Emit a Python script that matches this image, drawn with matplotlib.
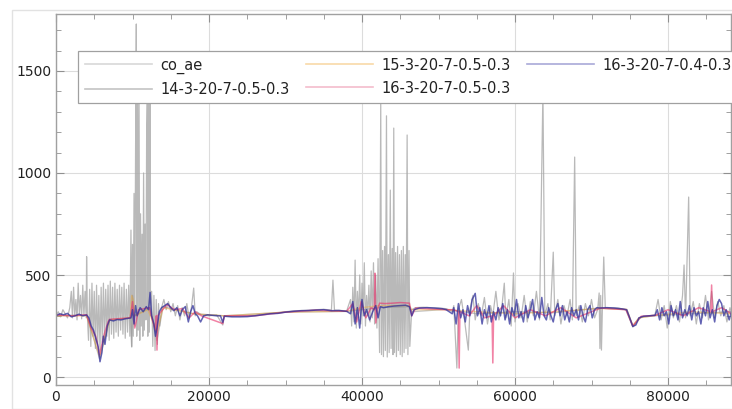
import matplotlib
matplotlib.use("Agg")
import matplotlib.pyplot as plt
import numpy as np
from matplotlib.patches import Rectangle
from matplotlib.ticker import MultipleLocator

# values, x in thousands of samples
co_x = [0, 0.3, 0.6, 0.9, 1.2, 1.5, 1.8,
        2.0, 2.15, 2.3, 2.45, 2.6, 2.75, 2.9, 3.05, 3.2, 3.35, 3.5, 3.65, 3.8, 3.95, 4.0, 4.1,
        4.25, 4.4, 4.55, 4.7, 4.85, 5.0, 5.15, 5.3, 5.45, 5.6, 5.75, 5.9, 6.05, 6.2, 6.35, 6.5,
        6.65, 6.8, 6.95, 7.1, 7.25, 7.4, 7.55, 7.7, 7.85, 8.0, 8.15, 8.3, 8.45, 8.6, 8.75, 8.9,
        9.05, 9.2, 9.35, 9.5, 9.65,
        9.8, 9.9, 10.0, 10.1, 10.2, 10.3, 10.4, 10.5, 10.55, 10.65, 10.75, 10.85, 10.95, 11.05,
        11.15, 11.25, 11.35, 11.45, 11.55, 11.65, 11.75, 11.85, 11.95, 12.0, 12.1, 12.2, 12.3, 12.35,
        12.5, 12.65, 12.8, 12.95, 13.1, 13.25, 13.4, 13.55,
        13.8, 14.1, 14.4, 14.7, 15.0, 15.3, 15.6, 15.9, 16.2, 16.5, 16.8, 17.1, 17.4, 17.7, 18.0,
        18.2, 18.4,
        19, 20, 21, 21.8, 22, 23, 24, 25, 26, 27, 28, 29, 30, 31, 32, 33, 34, 35, 36, 36.2, 36.4,
        37, 38,
        38.5, 38.65, 38.8, 38.95, 39.1, 39.25, 39.4, 39.55, 39.7, 39.85, 40.0, 40.15, 40.3, 40.45,
        40.6, 40.75, 40.9, 41.05, 41.2, 41.35, 41.5, 41.65, 41.8, 41.95, 42.1,
        42.3, 42.45, 42.55, 42.7, 42.8, 42.95, 43.05, 43.2, 43.3, 43.45, 43.55, 43.7, 43.8, 43.95,
        44.05, 44.15, 44.25, 44.4, 44.5, 44.65, 44.75, 44.9, 45.0, 45.15, 45.25, 45.4, 45.5, 45.65,
        45.75, 45.9, 46.0, 46.15, 46.25,
        46.5, 47, 48, 49, 50, 51, 51.8,
        52.0, 52.4, 52.6, 53.0, 53.4, 53.9, 54.1, 54.5, 54.8, 55.2, 55.6, 56.0, 56.4, 56.8, 57.1,
        57.5, 57.9, 58.3, 58.6, 58.8, 59.2, 59.5, 59.8, 60.0, 60.4, 60.8, 61.2, 61.6, 62.0, 62.4,
        62.8, 63.2, 63.65, 63.9, 64.3, 64.6, 65.0, 65.2, 65.6, 66.0, 66.4, 66.8, 67.2, 67.5, 67.8,
        68.0, 68.4, 68.8, 69.2, 69.6, 70.0, 70.4, 70.8, 71.0, 71.1, 71.2, 71.3, 71.45, 71.6, 71.8,
        72.5, 73.5, 74.5, 75.4, 76.5, 77.5, 78.3,
        78.7, 79.1, 79.5, 79.9, 80.3, 80.7, 81.1, 81.5, 81.9, 82.1, 82.3, 82.7, 82.9, 83.3, 83.7,
        84.1, 84.5, 84.9, 85.3, 85.7, 86.1, 86.5, 86.9, 87.3, 87.7, 88.1, 88.4]
co_y = [300, 320, 295, 330, 310, 290, 340,
        420, 290, 440, 300, 380, 280, 460, 310, 400, 285, 450, 300, 420, 290, 590, 300,
        180, 430, 150, 460, 200, 420, 140, 450, 160, 400, 132, 440, 170, 460, 190, 430,
        200, 450, 180, 470, 210, 440, 190, 460, 220, 430, 200, 450, 230, 440, 210, 460,
        190, 430, 220, 450, 200,
        720, 150, 650, 200, 900, 250, 1100, 1730, 200, 1500, 230, 1450, 180, 800,
        250, 700, 200, 1000, 230, 750, 280, 1200, 1420, 200, 1450, 220, 1380, 300,
        420, 150, 400, 130, 380, 160, 360, 250,
        340, 380, 330, 370, 320, 360, 300, 350, 280, 340, 300, 360, 290, 340, 436,
        300, 320,
        305, 300, 305, 255, 300, 298, 300, 300, 303, 307, 312, 315, 320, 324, 326, 327, 330, 332,
        328, 475, 328, 327, 324,
        380, 250, 440, 270, 573, 240, 420, 290, 500, 260, 460, 300, 560, 250,
        400, 300, 450, 270, 520, 290, 560, 260, 500, 240, 580,
        120, 1340, 110, 620, 100, 640, 130, 1280, 98, 600, 120, 916, 140, 630,
        110, 1220, 120, 610, 100, 640, 130, 600, 110, 620, 100, 640, 120, 600,
        140, 1186, 110, 620, 150,
        330, 340, 342, 340, 338, 335, 320,
        350, 44, 330, 380, 280, 132, 330, 400, 280, 360, 300, 390, 260, 350, 300,
        420, 280, 350, 460, 290, 380, 250, 510, 270, 360, 290, 400, 270, 370, 300,
        420, 280, 1400, 300, 360, 280, 612, 300, 380, 260, 350, 300, 380, 280, 1078,
        300, 350, 270, 360, 300, 380, 290, 330, 412, 140, 400, 132, 380, 588, 340,
        340, 338, 330, 245, 295, 300, 305,
        380, 280, 350, 240, 370, 290, 350, 270, 400, 549, 290, 882, 300, 370, 260,
        360, 290, 400, 280, 420, 290, 370, 300, 350, 270, 340, 300]

m14_x = [0, 4, 5.7, 7, 9.7, 9.9, 10.0, 10.2, 12.3, 13.2, 14, 18, 22, 30, 38, 40, 42.3, 46.2,
         46.5, 51, 55, 60, 65, 71, 74.6, 75.4, 76.2, 78, 83, 88.3]
m14_y = [300, 305, 90, 278, 290, 147, 400, 300, 340, 180, 345, 310, 300, 318, 322, 330, 340,
         345, 320, 332, 310, 320, 315, 338, 330, 250, 290, 300, 310, 320]

m15_x = [0, 4, 5.7, 7, 9.7, 9.9, 10.1, 10.3, 12, 13.2, 14, 18, 22, 30, 38, 40, 42.3, 46.2,
         46.5, 51, 55, 60, 65, 71, 74.6, 75.4, 76.2, 78, 83, 88.3]
m15_y = [300, 300, 100, 280, 290, 400, 380, 300, 330, 220, 340, 310, 300, 318, 322, 340, 350,
         350, 330, 330, 320, 310, 320, 336, 332, 252, 290, 300, 320, 310]

m16a_x = [0, 2, 4, 4.6, 5.2, 5.7, 6.3, 6.8, 7, 9.7, 10.0, 10.3, 10.8, 11.5, 12.2, 12.6, 13.0,
          13.1, 13.2, 13.3, 13.5, 14.5, 15.5, 16.5, 17.4, 18.2, 19, 21.8, 22, 26, 30, 34, 38,
          38.8, 39.3, 39.9, 40.5, 41.2, 41.6, 41.7, 41.8, 42.0, 42.3, 43, 44, 45, 46.2, 46.5,
          47, 51, 52, 52.6, 52.7, 52.8, 54, 55, 56, 57.0, 57.1, 57.2, 58.5, 60, 62, 64, 66,
          68, 70, 71.2, 74.5, 75.4, 76.5, 78.3, 80, 82, 84, 85.6, 85.7, 85.8, 87, 88.3]
m16a_y = [305, 300, 305, 240, 200, 110, 210, 270, 283, 290, 370, 240, 330, 335, 340, 280, 230,
          300, 132, 300, 310, 355, 330, 335, 290, 320, 300, 262, 300, 300, 318, 328, 322,
          360, 270, 370, 290, 340, 330, 509, 265, 330, 362, 360, 362, 365, 362, 300,
          338, 330, 330, 320, 44, 320, 300, 350, 290, 300, 69, 300, 350, 290, 330, 300, 340,
          290, 320, 338, 330, 250, 298, 302, 330, 300, 340, 320, 451, 320, 340, 310]

m16b_x = [0, 0.5, 1.0, 1.5, 2.0, 2.5, 3.0, 3.5, 4.0, 4.3, 4.6, 4.9, 5.2, 5.5, 5.75, 6.0, 6.2,
          6.4, 6.7, 7.0, 7.5, 8.0, 8.5, 9.0, 9.5, 9.8, 10.0, 10.2, 10.4, 10.6, 11.0, 11.4, 11.8,
          12.1, 12.3, 12.5, 12.8, 13.0, 13.2, 13.5, 13.8, 14.2, 14.6, 15.0, 15.4, 15.8, 16.2,
          16.5, 16.9, 17.3, 17.6, 17.9, 18.2, 18.5, 18.9, 19.3, 19.8, 20.5, 21.0, 21.5, 21.8,
          22.0, 23, 24, 25, 26, 27, 28, 29, 30, 31, 32, 33, 34, 35, 36, 37, 38, 38.5, 38.8,
          39.1, 39.4, 39.7, 40.0, 40.3, 40.6, 41.0, 41.4, 41.8, 42.1, 42.4, 42.8, 43.5, 44.2,
          45.0, 45.7, 46.2, 46.5, 46.8, 47.5, 48.5, 49.5, 50.5, 51.0, 51.4, 51.8,
          52.0, 52.3, 52.6, 52.9, 53.2, 53.5, 53.8, 54.1, 54.4, 54.8, 55.1, 55.4, 55.7, 56.0,
          56.3, 56.6, 56.9, 57.2, 57.5, 57.8, 58.1, 58.4, 58.7, 59.0, 59.3, 59.6, 59.9, 60.2,
          60.5, 60.8, 61.1, 61.4, 61.7, 62.0, 62.3, 62.6, 62.9, 63.2, 63.5, 63.8, 64.1, 64.4,
          64.7, 65.0, 65.3, 65.6, 65.9, 66.2, 66.5, 66.8, 67.1, 67.4, 67.7, 68.0, 68.3, 68.6,
          68.9, 69.2, 69.5, 69.8, 70.1, 70.4, 70.7,
          71.1, 72, 73, 74, 74.6, 75.0, 75.4, 75.8, 76.2, 76.8, 77.5, 78.3, 78.6,
          78.9, 79.2, 79.5, 79.8, 80.1, 80.4, 80.7, 81.0, 81.3, 81.6, 81.9, 82.2, 82.5, 82.8,
          83.1, 83.4, 83.7, 84.0, 84.3, 84.6, 84.9, 85.2, 85.5, 85.8, 86.1, 86.4, 86.7, 87.0,
          87.3, 87.6, 88.0, 88.3]
m16b_y = [300, 310, 305, 312, 295, 300, 308, 300, 304, 290, 250, 230, 190, 150, 75, 120, 200,
          160, 250, 280, 275, 282, 280, 285, 288, 290, 330, 260, 350, 300, 340, 320, 345,
          330, 415, 300, 260, 200, 240, 320, 340, 350, 360, 340, 325, 340, 300,
          330, 345, 270, 320, 350, 310, 300, 270, 300, 305, 302, 300, 300, 268,
          298, 295, 295, 296, 300, 305, 310, 312, 318, 322, 325, 326, 328, 330, 325, 326, 322,
          310, 370, 260, 340, 240, 380, 300, 330, 280, 320, 350, 290, 345, 340, 345, 348,
          350, 352, 345, 300, 330, 338, 340, 338, 335, 330, 320, 310,
          340, 260, 360, 290, 330, 270, 350, 300, 380, 410, 300, 340, 260, 330,
          290, 350, 270, 320, 280, 340, 300, 360, 280, 330, 260, 340, 300, 380,
          290, 320, 270, 350, 290, 330, 380, 280, 320, 290, 390, 300, 280, 340,
          300, 270, 330, 360, 300, 350, 280, 320, 270, 340, 300, 330, 280, 350,
          300, 270, 330, 350, 290, 330, 340,
          338, 340, 338, 334, 330, 290, 248, 255, 290, 298, 300, 302, 330,
          280, 340, 300, 320, 260, 350, 300, 330, 280, 370, 290, 330, 300, 350,
          280, 340, 300, 320, 260, 340, 300, 370, 290, 330, 270, 350, 380, 360,
          300, 330, 280, 320]

series = [
    ("co_ae", co_x, co_y, "#a8a8a8", 0.9, 0.8),
    ("14-3-20-7-0.5-0.3", m14_x, m14_y, "#8c8c8c", 1.0, 0.5),
    ("15-3-20-7-0.5-0.3", m15_x, m15_y, "#f5a623", 1.0, 0.4),
    ("16-3-20-7-0.5-0.3", m16a_x, m16a_y, "#e8306a", 1.1, 0.6),
    ("16-3-20-7-0.4-0.3", m16b_x, m16b_y, "#2f2f9a", 1.1, 0.75),
]
legend_colors = ["#d8d8d8", "#c4c4c4", "#f8d9a8", "#f4bccc", "#a9a9d8"]

fig = plt.figure(figsize=(7.32, 4.09), dpi=100)
fig.patches.append(Rectangle((12 / 732, 0), 1, 1 - 10 / 409, transform=fig.transFigure,
                             fill=False, edgecolor="#e2e2e2", linewidth=1.0))
ax = fig.add_axes([56 / 732, 1 - 385 / 409, 675 / 732, 371 / 409])

for (name, xs, ys, color, lw, alpha) in series:
    ax.plot(np.array(xs) * 1000, ys, color=color, linewidth=lw, alpha=alpha)

ax.set_xlim(0, 88235)
ax.set_ylim(-39, 1779)
ax.xaxis.set_major_locator(MultipleLocator(20000))
ax.xaxis.set_minor_locator(MultipleLocator(5000))
ax.yaxis.set_major_locator(MultipleLocator(500))
ax.yaxis.set_minor_locator(MultipleLocator(100))
ax.grid(True, which="major", color="#dcdcdc", linewidth=0.8)
ax.set_axisbelow(True)
ax.tick_params(which="both", direction="in", top=True, right=True, colors="#909090",
               labelcolor="#222222", labelsize=10)
ax.tick_params(which="major", length=6)
ax.tick_params(which="minor", length=3.5)
for sp in ax.spines.values():
    sp.set_color("#a0a0a0")
    sp.set_linewidth(1.0)

handles = [plt.Line2D([], [], color=c, linewidth=1.2) for c in legend_colors]
labels = [s[0] for s in series]
leg = fig.legend(handles, labels, ncol=3, loc="upper left",
                 bbox_to_anchor=(78 / 732, 1 - 51 / 409), borderaxespad=0,
                 fontsize=10.5, handlelength=4.6, handletextpad=0.6, columnspacing=1.1,
                 labelspacing=0.55, borderpad=0.45, fancybox=False, framealpha=1.0,
                 edgecolor="#a0a0a0")
leg.get_frame().set_linewidth(0.9)
for t in leg.get_texts():
    t.set_color("#222222")

fig.savefig("out.png", dpi=100)
